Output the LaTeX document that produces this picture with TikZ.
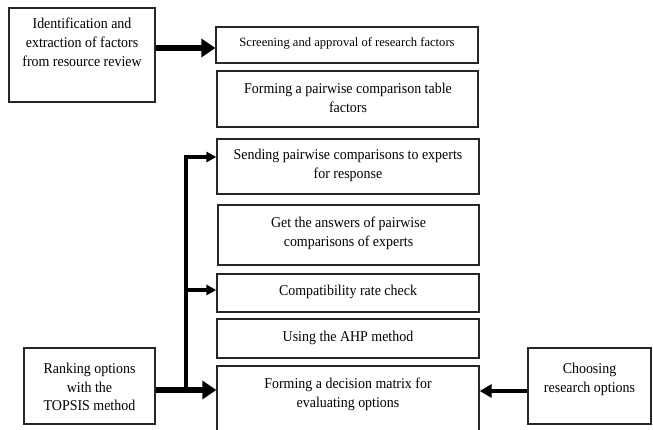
\documentclass[tikz,border=0pt]{standalone}
\usepackage{fontspec}
\setmainfont{Liberation Serif}[FakeStretch=0.93]
\newfontfamily\plainserif{Liberation Serif}
\usetikzlibrary{arrows.meta}
\tikzset{
  box/.style={draw=black!85, line width=1.3pt, rectangle, inner sep=0pt},
  txt/.style={align=center, inner sep=0pt, font=\fontsize{15}{18.8}\selectfont},
  smalltxt/.style={align=center, inner sep=0pt, font=\plainserif\fontsize{12.6}{15}\selectfont},
  bigarrow/.style={line width=6pt, -{Triangle[length=14pt,width=18pt]}},
  midarrow/.style={line width=4.5pt, -{Triangle[length=12pt,width=13pt]}},
  brancharrow/.style={line width=3.2pt, -{Triangle[length=10pt,width=10pt]}},
}
\begin{document}
\begin{tikzpicture}[x=1pt,y=-1pt]
\useasboundingbox (0,0) rectangle (653,430);
\clip (0,0) rectangle (653,430);
% boxes
\node[box, minimum width=146pt, minimum height=94pt] (ident) at (82,55) {};
\node[txt, anchor=north] (identtxt) at (82,18) {Identification and\\extraction of factors\\from resource review};
\node[box, minimum width=262pt, minimum height=36pt] (screen) at (347,45) {};
\node[smalltxt] (screentxt) at (347,43) {Screening and approval of research factors};
\node[box, minimum width=261pt, minimum height=56pt] (pair) at (347.5,99) {};
\node[txt] (pairtxt) at (348,98) {Forming a pairwise comparison table\\factors};
\node[box, minimum width=262pt, minimum height=55pt] (send) at (348,166.5) {};
\node[txt] (sendtxt) at (348,165) {Sending pairwise comparisons to experts\\for response};
\node[box, minimum width=261pt, minimum height=60pt] (get) at (348.5,235) {};
\node[txt] (gettxt) at (348.5,233) {Get the answers of pairwise\\comparisons of experts};
\node[box, minimum width=262pt, minimum height=38pt] (comp) at (348,293) {};
\node[txt] (comptxt) at (348,292) {Compatibility rate check};
\node[box, minimum width=262pt, minimum height=39pt] (ahp) at (348,338.5) {};
\node[txt] (ahptxt) at (348,337.5) {Using the AHP method};
\node[box, minimum width=262pt, minimum height=80pt] (dec) at (348,406) {};
\node[txt, anchor=north] (dectxt) at (348,378) {Forming a decision matrix for\\evaluating options};
\node[box, minimum width=131pt, minimum height=76pt] (rank) at (89.5,386) {};
\node[txt] (ranktxt) at (89.5,387) {Ranking options\\with the\\TOPSIS method};
\node[box, minimum width=123pt, minimum height=76pt] (choose) at (589.5,386) {};
\node[txt] (choosetxt) at (589.5,379) {Choosing\\research options};
% connectors
\coordinate (ya) at (0,48);
\coordinate (j) at (186,390);
\coordinate (js) at (186,157);
\coordinate (jc) at (186,290);
\coordinate (yc) at (0,391);
\draw[bigarrow] (ident.east |- ya) -- (screen.west |- ya);
\draw[bigarrow] (rank.east |- j) -- (dec.west |- j);
\draw[brancharrow] (j) -- (js) -- (send.west |- js);
\draw[brancharrow] (jc) -- (comp.west |- jc);
\draw[midarrow] (choose.west |- yc) -- (dec.east |- yc);
\end{tikzpicture}
\end{document}
